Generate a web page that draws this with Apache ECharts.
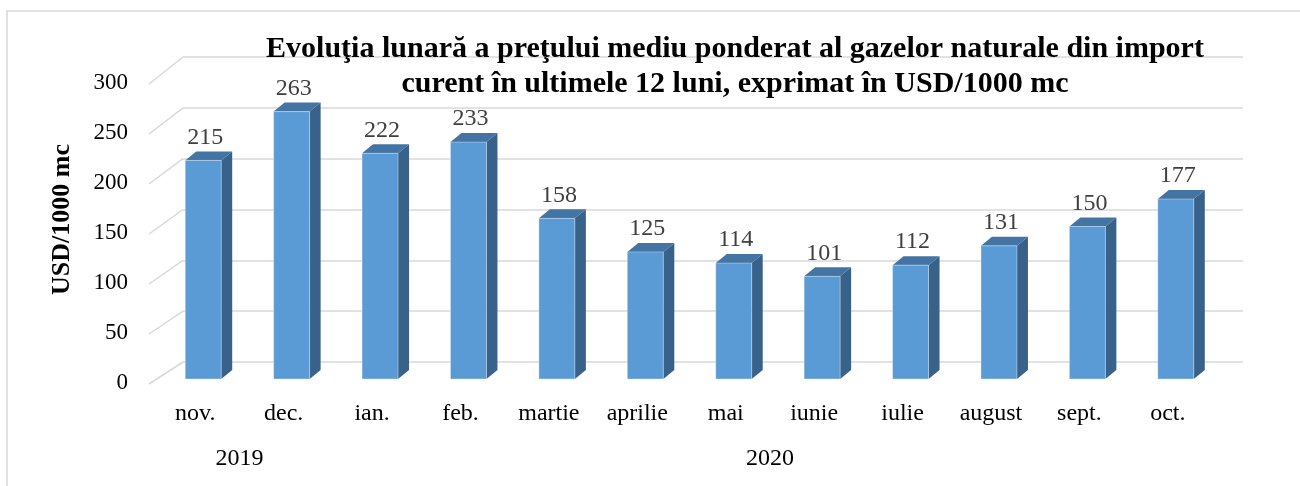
<!DOCTYPE html>
<html>
<head>
<meta charset="utf-8">
<style>
  html, body { margin: 0; padding: 0; background: #fff; }
  #chart { width: 1300px; height: 486px; }
</style>
<script src="https://cdn.jsdelivr.net/npm/echarts/dist/echarts.min.js"></script>
</head>
<body>
<div id="chart"></div>
<script>
// date
var categories = ['nov.', 'dec.', 'ian.', 'feb.', 'martie', 'aprilie', 'mai', 'iunie', 'iulie', 'august', 'sept.', 'oct.'];
var values = [215, 263, 222, 233, 158, 125, 114, 101, 112, 131, 150, 177];
var years = ['2019', '2020'];
var yearSpans = [2, 10];          // cate luni are fiecare an
var yTicks = [0, 50, 100, 150, 200, 250, 300];

(function(){
    var font = '"Liberation Serif", "Times New Roman", serif';
    var myChart = echarts.init(document.getElementById('chart'));

    // pozitia etichetelor de an (mijlocul grupului de luni)
    var yearPos = {};
    var acc = 0;
    for (var k = 0; k < years.length; k++) {
        yearPos[acc + yearSpans[k] / 2] = years[k];
        acc += yearSpans[k];
    }

    var option = {
        backgroundColor: '#fff',
        animation: false,
        title: {
            text: 'Evoluţia lunară a preţului mediu ponderat al gazelor naturale din import\ncurent în ultimele 12 luni, exprimat în USD/1000 mc',
            left: 730,
            top: 27,
            textAlign: 'center',
            textStyle: {
                fontFamily: font,
                fontSize: 30,
                fontWeight: 'bold',
                color: '#000',
                lineHeight: 35,
                align: 'center'
            }
        },
        graphic: [{
            type: 'rect',
            shape: { x: 7, y: 11, width: 1400, height: 600 },
            style: { fill: 'none', stroke: '#d9d9d9', lineWidth: 1.5 },
            silent: true
        }],
        grid: [
            // bare
            { left: 151, right: 88, top: 74, bottom: 107 },
            // peretele din spate
            { left: 183, right: 57, top: 57, bottom: 124 },
            // axa din fata (etichete)
            { left: 150, right: 1117, top: 83, bottom: 103 }
        ],
        xAxis: [
            {
                type: 'category',
                gridIndex: 0,
                data: categories,
                axisLine: { show: false },
                axisTick: { show: false },
                axisLabel: {
                    margin: 23,
                    fontFamily: font,
                    fontSize: 24,
                    color: '#000'
                }
            },
            {
                type: 'value',
                gridIndex: 0,
                min: 0,
                max: categories.length,
                interval: 1,
                position: 'bottom',
                offset: 45,
                axisLine: { show: false },
                axisTick: { show: false },
                splitLine: { show: false },
                axisLabel: {
                    margin: 23,
                    fontFamily: font,
                    fontSize: 24,
                    color: '#000',
                    formatter: function (v) { return yearPos[v] || ''; }
                }
            },
            { type: 'value', gridIndex: 1, min: 0, max: 1, show: false },
            { type: 'value', gridIndex: 2, min: 0, max: 1, show: false }
        ],
        yAxis: [
            {
                type: 'value',
                gridIndex: 0,
                min: 0,
                max: 300,
                interval: 50,
                name: 'USD/1000 mc',
                nameLocation: 'middle',
                nameRotate: 90,
                nameGap: 76,
                nameTextStyle: {
                    fontFamily: font,
                    fontSize: 26,
                    fontWeight: 'bold',
                    color: '#000',
                    padding: [0, 0, 0, 14]
                },
                axisLine: { show: false },
                axisTick: { show: false },
                axisLabel: { show: false },
                splitLine: { show: false }
            },
            {
                type: 'value',
                gridIndex: 1,
                min: 0,
                max: 300,
                interval: 50,
                axisLine: { show: false },
                axisTick: { show: false },
                axisLabel: { show: false },
                splitLine: { lineStyle: { color: '#d9d9d9', width: 1.5 } }
            },
            {
                type: 'value',
                gridIndex: 2,
                min: 0,
                max: 300,
                interval: 50,
                axisLine: { show: false },
                axisTick: { show: false },
                splitLine: { show: false },
                axisLabel: {
                    margin: 22,
                    fontFamily: font,
                    fontSize: 23,
                    color: '#000'
                }
            }
        ],
        series: [{
            type: 'custom',
            xAxisIndex: 0,
            yAxisIndex: 0,
            data: values.map(function (v, i) { return [i, v]; }),
            renderItem: function (params, api) {
                var i = api.value(0), v = api.value(1);
                var base = api.coord([i, 0]);
                var top = api.coord([i, v]);
                var w = 36, dx = 11, dy = 9, off = 8;
                var x0 = base[0] + off - w / 2, x1 = x0 + w;
                var yb = base[1], yt = top[1];
                return {
                    type: 'group',
                    children: [
                        { // latura
                            type: 'polygon',
                            shape: { points: [[x1, yb], [x1 + dx, yb - dy], [x1 + dx, yt - dy], [x1, yt]] },
                            style: { fill: '#386289' }
                        },
                        { // capac
                            type: 'polygon',
                            shape: { points: [[x0, yt], [x1, yt], [x1 + dx, yt - dy], [x0 + dx, yt - dy]] },
                            style: { fill: '#4374a3' }
                        },
                        { // fata
                            type: 'rect',
                            shape: { x: x0, y: yt, width: w, height: yb - yt },
                            style: { fill: '#5b9bd5', stroke: 'rgba(255,255,255,0.35)', lineWidth: 1 }
                        },
                        {
                            type: 'text',
                            x: x0 + w / 2 + 2,
                            y: yt - dy - 14,
                            style: {
                                text: String(v),
                                fontFamily: font,
                                fontSize: 24,
                                fill: '#404040',
                                textAlign: 'center',
                                textVerticalAlign: 'middle'
                            }
                        }
                    ]
                };
            }
        }]
    };
    myChart.setOption(option);

    // liniile diagonale dintre axa din fata si peretele din spate
    var diag = yTicks.map(function (v) {
        var yf = myChart.convertToPixel({ yAxisIndex: 2 }, v);
        var yb = myChart.convertToPixel({ yAxisIndex: 1 }, v);
        return {
            type: 'line',
            shape: { x1: 149, y1: yf + 1, x2: 183, y2: yb },
            style: { stroke: '#d9d9d9', lineWidth: 1.5 },
            silent: true
        };
    });
    myChart.setOption({ graphic: option.graphic.concat(diag) });
})();
</script>
</body>
</html>
